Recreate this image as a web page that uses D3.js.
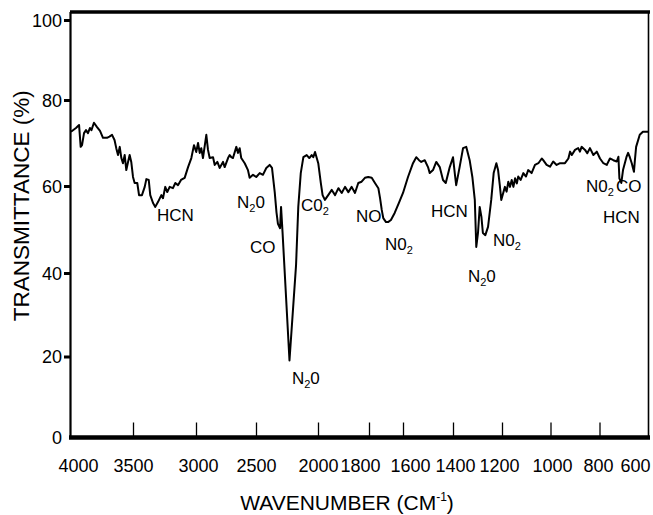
<!DOCTYPE html>
<html>
<head>
<meta charset="utf-8">
<script src="https://cdn.jsdelivr.net/npm/d3@7"></script>
<style>
  body { margin: 0; background: #fff; }
  svg { display: block; font-family: "Liberation Sans", Arial, Helvetica, sans-serif; }
</style>
</head>
<body>
<svg id="chart" width="653" height="515"></svg>
<script>
// spectrum (wavenumber in cm-1, transmittance in %)
const wavenumbers = [
  4000, 3960, 3935, 3922, 3911, 3895, 3879, 3863, 3847, 3835, 3815, 3790, 3766, 3742, 3710, 3690,
  3669, 3649, 3635, 3621, 3607, 3594, 3581, 3567, 3554, 3540, 3527, 3514, 3500, 3487, 3466, 3452,
  3429, 3407, 3394, 3375, 3363, 3341, 3323, 3302, 3275, 3262, 3244, 3228, 3209, 3183, 3164, 3143,
  3119, 3090, 3063, 3037, 3016, 2998, 2983, 2969, 2956, 2942, 2914, 2900, 2886, 2858, 2844, 2822,
  2803, 2775, 2761, 2733, 2719, 2706, 2692, 2664, 2650, 2636, 2623, 2594, 2567, 2553, 2525, 2498,
  2470, 2444, 2417, 2390, 2371, 2349, 2335, 2323, 2306, 2298, 2286, 2230, 2177, 2159, 2139, 2118,
  2091, 2070, 2051, 2038, 2024, 1999, 1989, 1982, 1973, 1960, 1946, 1933, 1920, 1907, 1894, 1881,
  1868, 1855, 1842, 1829, 1816, 1803, 1784, 1765, 1745, 1735, 1725, 1716, 1700, 1688, 1671, 1649,
  1624, 1600, 1580, 1560, 1547, 1536, 1527, 1513, 1500, 1493, 1480, 1467, 1453, 1440, 1429, 1413,
  1400, 1392, 1387, 1373, 1359, 1346, 1332, 1321, 1311, 1305, 1298, 1291, 1284, 1278, 1268, 1257,
  1244, 1234, 1223, 1216, 1209, 1203, 1188, 1181, 1174, 1167, 1160, 1153, 1146, 1139, 1133, 1123,
  1112, 1101, 1092, 1078, 1064, 1050, 1036, 1030, 1016, 1002, 989, 975, 961, 941, 927, 920,
  913, 900, 887, 880, 873, 859, 850, 839, 825, 811, 798, 784, 770, 757, 743, 729,
  722, 718, 710, 703, 689, 682, 675, 667, 662, 658, 654, 649, 634, 621, 600
];
const transmittance = [
  72.6, 73.5, 74.2, 69.1, 69.5, 72.3, 73.0, 72.3, 73.5, 73.0, 74.7, 73.7, 72.8, 71.2, 71.2, 71.5,
  71.9, 70.7, 68.8, 67.2, 69.1, 66.5, 65.3, 67.2, 63.7, 65.6, 67.2, 65.6, 62.1, 60.7, 60.7, 57.9,
  57.9, 59.8, 61.6, 61.4, 57.9, 56.1, 55.2, 56.3, 57.9, 57.2, 59.8, 58.6, 59.8, 59.5, 60.7, 60.2,
  61.4, 61.9, 64.4, 66.5, 69.5, 67.9, 70.0, 67.7, 68.8, 66.5, 71.9, 68.4, 66.5, 66.7, 64.9, 65.6,
  64.2, 65.6, 64.4, 66.5, 67.2, 66.7, 66.5, 69.1, 67.7, 68.8, 66.5, 65.3, 63.7, 61.9, 62.6, 62.1,
  63.0, 62.6, 64.2, 64.9, 64.2, 58.6, 54.0, 51.3, 50.3, 55.2, 49.4, 19.0, 41.8, 55.2, 63.0, 66.7,
  67.2, 66.5, 67.2, 66.7, 67.9, 65.3, 60.7, 57.9, 56.8, 57.9, 59.1, 57.9, 59.5, 58.4, 59.8, 58.6,
  59.8, 58.4, 60.7, 61.0, 61.9, 62.1, 61.9, 60.7, 59.5, 57.2, 54.5, 52.6, 51.7, 51.7, 52.2, 53.8,
  56.1, 58.4, 62.1, 65.3, 66.7, 66.0, 65.6, 66.0, 64.4, 63.0, 63.7, 65.6, 64.4, 61.4, 60.7, 64.4,
  66.7, 62.6, 60.2, 64.4, 68.8, 69.1, 66.0, 62.1, 56.8, 46.0, 49.2, 55.2, 52.9, 49.2, 48.7, 50.6,
  56.8, 63.0, 65.3, 63.7, 60.2, 56.8, 59.8, 58.7, 61.0, 59.8, 61.4, 59.8, 61.8, 60.6, 62.2, 61.4,
  63.0, 62.2, 63.7, 63.0, 64.9, 65.3, 66.4, 66.0, 64.9, 64.5, 65.7, 64.9, 65.3, 65.3, 66.4, 68.0,
  67.2, 68.4, 68.8, 68.0, 69.1, 68.4, 67.6, 68.8, 67.2, 68.0, 66.4, 65.3, 64.9, 66.4, 66.0, 65.7,
  66.8, 61.8, 60.7, 63.7, 66.7, 67.7, 66.7, 65.3, 64.2, 63.3, 66.0, 69.1, 71.9, 72.6, 72.6
];

const xTickValues = [4000, 3500, 3000, 2500, 2000, 1800, 1600, 1400, 1200, 1000, 800, 600];
const yTickValues = [0, 20, 40, 60, 80, 100];

// band assignments: pre + subscript + post, anchored at (wavenumber, %T)
const peakLabels = [
  { pre: 'HCN', sub: '', post: '', wn: 3310, t: 52.0 },
  { pre: 'N', sub: '2', post: '0', wn: 2658, t: 55.0 },
  { pre: 'CO', sub: '', post: '', wn: 2550, t: 44.6 },
  { pre: 'N', sub: '2', post: '0', wn: 2210, t: 13.3 },
  { pre: 'C0', sub: '2', post: '', wn: 2137, t: 54.3 },
  { pre: 'NO', sub: '', post: '', wn: 1851, t: 51.7 },
  { pre: 'N0', sub: '2', post: '', wn: 1706, t: 45.3 },
  { pre: 'HCN', sub: '', post: '', wn: 1488, t: 52.9 },
  { pre: 'N', sub: '2', post: '0', wn: 1339, t: 37.8 },
  { pre: 'N0', sub: '2', post: '', wn: 1237, t: 46.2 },
  { pre: 'N0', sub: '2', post: '', wn: 855, t: 58.6 },
  { pre: 'CO', sub: '', post: '', wn: 732, t: 58.6 },
  { pre: 'HCN', sub: '', post: '', wn: 786, t: 51.5 }
];

const svg = d3.select('#chart');

// the scanned axes are not quite even, so both scales are piecewise
const x = d3.scaleLinear()
  .domain(xTickValues)
  .range([71, 133, 196, 256, 318, 369, 403, 453, 502, 550.5, 599.5, 648]);
const y = d3.scaleLinear()
  .domain(yTickValues)
  .range([437.5, 356.5, 273, 186, 100, 20]);

const plotLeft = x(4000), plotRight = x(600), plotTop = y(100) - 8, plotBottom = y(0);

// x axis (ticks point up into the plot)
const labelShift = { 4000: 7, 3000: 2, 1800: -9, 1600: 7, 1400: 2, 1200: -3, 1000: 1.5, 800: -1.5, 600: -13 };
const xAxis = svg.append('g')
  .attr('transform', `translate(0, ${plotBottom})`)
  .call(d3.axisBottom(x).tickValues(xTickValues).tickSize(-15).tickPadding(22).tickFormat(d3.format('d')));
xAxis.select('.domain').remove();
xAxis.selectAll('.tick line')
  .attr('stroke', '#000')
  .attr('stroke-width', 1.3)
  .attr('opacity', d => (d === 4000 || d === 600) ? 0 : 1);
xAxis.selectAll('.tick text')
  .attr('fill', '#000')
  .style('font-size', '18px')
  .attr('dx', d => labelShift[d] || 0);

// y axis
const yAxis = svg.append('g')
  .attr('transform', `translate(${plotLeft}, 0)`)
  .call(d3.axisLeft(y).tickValues(yTickValues).tickSize(7).tickPadding(2));
yAxis.select('.domain').remove();
yAxis.selectAll('.tick line')
  .attr('stroke', '#000')
  .attr('stroke-width', 3)
  .attr('opacity', d => d === 0 ? 0 : 1);
yAxis.selectAll('.tick text')
  .attr('fill', '#000')
  .style('font-size', '18px')
  .attr('dy', '0.36em');

// frame
svg.append('line').attr('x1', plotLeft - 1).attr('x2', plotRight + 2).attr('y1', plotTop).attr('y2', plotTop)
  .attr('stroke', '#000').attr('stroke-width', 3.5);
svg.append('line').attr('x1', plotLeft - 0.5).attr('x2', plotLeft - 0.5).attr('y1', plotTop).attr('y2', plotBottom)
  .attr('stroke', '#000').attr('stroke-width', 2.2);
svg.append('line').attr('x1', plotRight + 0.5).attr('x2', plotRight + 0.5).attr('y1', plotTop).attr('y2', plotBottom)
  .attr('stroke', '#000').attr('stroke-width', 1.6);
svg.append('line').attr('x1', plotLeft - 2).attr('x2', plotRight + 2).attr('y1', plotBottom).attr('y2', plotBottom)
  .attr('stroke', '#000').attr('stroke-width', 4.5);

// spectrum
const points = wavenumbers.map((w, i) => [w, transmittance[i]]);
svg.append('path')
  .datum(points)
  .attr('fill', 'none')
  .attr('stroke', '#000')
  .attr('stroke-width', 2)
  .attr('stroke-linejoin', 'round')
  .attr('d', d3.line().x(d => x(d[0])).y(d => y(d[1])));

// band labels
const lab = svg.append('g').selectAll('text')
  .data(peakLabels)
  .enter()
  .append('text')
  .attr('x', d => x(d.wn))
  .attr('y', d => y(d.t))
  .style('font-size', '17px')
  .attr('fill', '#000');
lab.append('tspan').text(d => d.pre);
lab.filter(d => d.sub).append('tspan')
  .attr('dy', 4).style('font-size', '11px').text(d => d.sub);
lab.filter(d => d.post).append('tspan')
  .attr('dy', -4).text(d => d.post);

// axis titles
const xt = svg.append('text')
  .attr('x', 347)
  .attr('y', 510)
  .attr('text-anchor', 'middle')
  .style('font-size', '21px')
  .attr('fill', '#000');
xt.append('tspan').text('WAVENUMBER (CM');
xt.append('tspan').attr('dy', -9).style('font-size', '12px').text('-1');
xt.append('tspan').attr('dy', 9).text(')');

svg.append('text')
  .attr('transform', `translate(29, ${(plotTop + plotBottom) / 2 - 19}) rotate(-90)`)
  .attr('text-anchor', 'middle')
  .style('font-size', '22.5px')
  .attr('fill', '#000')
  .text('TRANSMITTANCE (%)');
</script>
</body>
</html>
